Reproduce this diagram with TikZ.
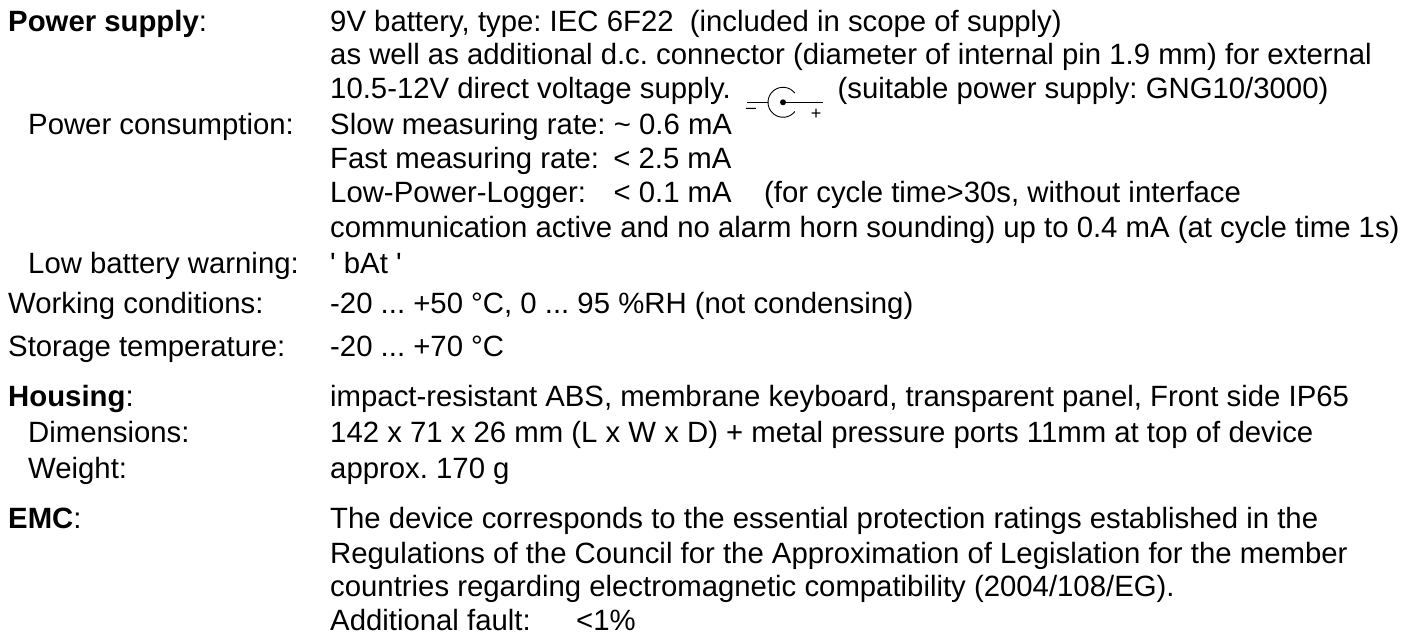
\documentclass[tikz,border=0pt]{standalone}
\usepackage{fontspec}
\setmainfont{Liberation Sans}
\tikzset{tx/.style={anchor=base west,inner sep=0pt,font=\fontsize{29.33bp}{34bp}\selectfont\frenchspacing,text=black},
sym/.style={line width=0.9bp,black},
pol/.style={inner sep=0pt,font=\fontsize{18bp}{18bp}\selectfont,text=black}}
\newcommand{\xsp}{\hspace{0.278em}}
\begin{document}
\begin{tikzpicture}[x=1bp,y=-1bp]
\useasboundingbox (0,0) rectangle (1416,635);
\fill[white] (0,0) rectangle (1416,635);
\def\L{8}\def\I{28}\def\R{330}
\node[tx] (a1) at (\L,32) {\textbf{Power supply}:};
\node[tx] (b1) at (\R,32) {9V battery, type: IEC 6F22 \xsp(included in scope of supply)};
\node[tx] (b2) at (\R,65) {as well as additional d.c. connector (diameter of internal pin 1.9 mm) for external};
\node[tx] (b3) at (\R,99) {10.5-12V direct voltage supply.};
\node[tx] (b3b) at (837.5,99) {(suitable power supply: GNG10/3000)};
\coordinate (jc) at (783,102.3);
\coordinate (jl) at (747,102.3);
\coordinate (jm) at (768,102.3);
\coordinate (jr) at (822.7,102.3);
\draw[sym] (jl) -- (jm);
\draw[sym] (jc) -- (jr);
\fill (jc) circle (3bp);
\draw[sym] ([shift={(38:15bp)}]jc) arc[start angle=38,end angle=322,radius=15bp];
\node[pol] (mn) at (751,110.5) {–};
\node[pol] (pl) at (816,114.3) {+};
\node[tx] (a4) at (\I,135) {Power consumption:};
\node[tx] (b4) at (\R,135) {Slow measuring rate: \textasciitilde{} 0.6 mA};
\node[tx] (b5) at (\R,169) {Fast measuring rate: \hspace{6bp}< 2.5 mA};
\node[tx] (b6) at (\R,203) {Low-Power-Logger: \xsp\xsp\hspace{3bp}< 0.1 mA \xsp\xsp\hspace{8bp}(for cycle time>30s, without interface};
\node[tx] (b7) at (\R,237) {communication active and no alarm horn sounding) up to 0.4 mA (at cycle time 1s)};
\node[tx] (a8) at (\I,273) {Low battery warning:};
\node[tx] (b8) at (\R,273) {\textquotesingle{} bAt \textquotesingle};
\node[tx] (a9) at (\L,313) {Working conditions:};
\node[tx] (b9) at (\R,313) {-20 ... +50 °C, 0 ... 95 \%RH (not condensing)};
\node[tx] (a10) at (\L,356) {Storage temperature:};
\node[tx] (b10) at (\R,356) {-20 ... +70 °C};
\node[tx] (a11) at (\L,406) {\textbf{Housing}:};
\node[tx] (b11) at (\R,406) {impact-resistant ABS, membrane keyboard, transparent panel, Front side IP65};
\node[tx] (a12) at (\I,442) {Dimensions:};
\node[tx] (b12) at (\R,442) {142 x 71 x 26 mm (L x W x D) + metal pressure ports 11mm at top of device};
\node[tx] (a13) at (\I,478) {Weight:};
\node[tx] (b13) at (\R,478) {approx. 170 g};
\node[tx] (a14) at (\L,528) {\textbf{EMC}:};
\node[tx] (b14) at (\R,528) {The device corresponds to the essential protection ratings established in the};
\node[tx] (b15) at (\R,563) {Regulations of the Council for the Approximation of Legislation for the member};
\node[tx] (b16) at (\R,596) {countries regarding electromagnetic compatibility (2004/108/EG).};
\node[tx] (b17) at (\R,630) {Additional fault:};
\node[tx] (b17b) at (576,630) {<1\%};
\end{tikzpicture}
\end{document}
